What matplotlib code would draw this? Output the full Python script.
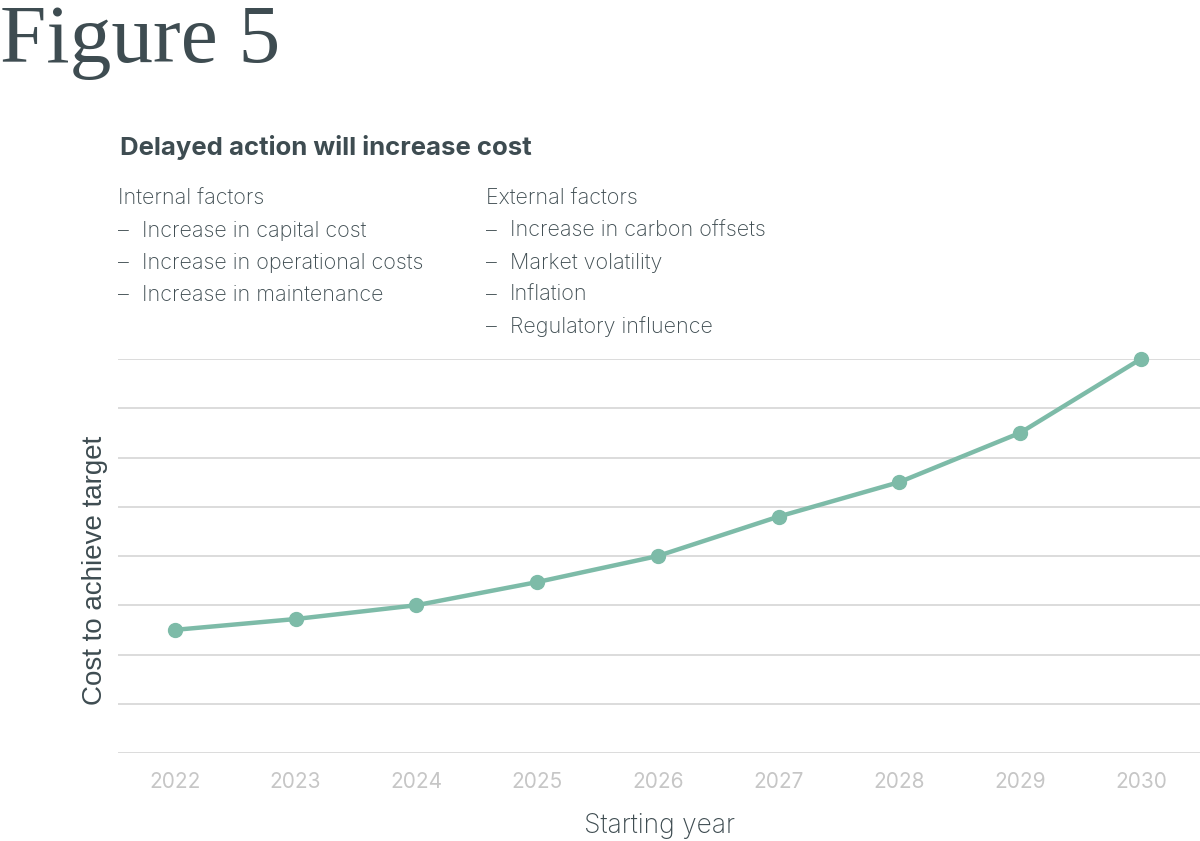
import matplotlib.pyplot as plt

years = [2022, 2023, 2024, 2025, 2026, 2027, 2028, 2029, 2030]
cost = [2.5, 2.72, 3.0, 3.47, 4.0, 4.8, 5.5, 6.5, 8.0]

internal_title = "Internal factors"
internal_items = ["Increase in capital cost", "Increase in operational costs",
                  "Increase in maintenance"]
external_title = "External factors"
external_items = ["Increase in carbon offsets", "Market volatility",
                  "Inflation", "Regulatory influence"]

dark = '#3e4c51'
green = '#7dbba8'
grid_c = '#d9d9d9'
tick_c = '#c6c6c6'
sans = ['Inter', 'DejaVu Sans']

fig = plt.figure(figsize=(12, 8.41), dpi=100)
W, H = 1200, 841

def px(x, y):
    return x / W, 1 - y / H

# headings
fig.text(*px(0, 62), "Figure 5", family=['Liberation Serif', 'DejaVu Serif'],
         fontsize=60, color=dark, va='baseline')
fig.text(*px(120, 155), "Delayed action will increase cost", family=sans,
         fontsize=18.5, weight='bold', color=dark, va='baseline')

def block(x, title, items):
    fig.text(*px(x, 205), title, family=sans, fontsize=15.5, color=dark,
             va='baseline', weight='light')
    for i, item in enumerate(items):
        y = 237 + i * 32
        fig.text(*px(x, y), "\u2013", family=sans, fontsize=15.5, color=dark,
                 va='baseline', weight='light')
        fig.text(*px(x + 24, y), item, family=sans, fontsize=15.5, color=dark,
                 va='baseline', weight='light')

block(118, internal_title, internal_items)
block(486, external_title, external_items)

# chart
ax = fig.add_axes([118 / W, 1 - 753 / H, 1 - 118 / W, (753 - 359) / H])
ax.plot(years, cost, color=green, linewidth=3.2, marker='o', markersize=10,
        clip_on=False, zorder=3)
ax.set_xlim(2021.53, 2030.49)
ax.set_ylim(0, 8)
ax.set_yticks(range(0, 9))
ax.set_yticklabels([])
ax.set_xticks(years)
ax.set_xticklabels([str(y) for y in years], family=sans, fontsize=15,
                   color=tick_c)
ax.tick_params(axis='both', length=0)
ax.tick_params(axis='x', pad=14)
ax.grid(axis='y', color=grid_c, linewidth=1.3)
for s in ax.spines.values():
    s.set_visible(False)
ax.set_xlabel("Starting year", family=sans, fontsize=19, color=dark,
              weight='light', labelpad=15)
ax.set_ylabel("Cost to achieve target", family=['Liberation Sans', 'DejaVu Sans'],
              fontsize=20, color=dark, va='center', ha='center')
ax.yaxis.set_label_coords(-0.021, 0.464)

fig.savefig('out.png', dpi=100)
